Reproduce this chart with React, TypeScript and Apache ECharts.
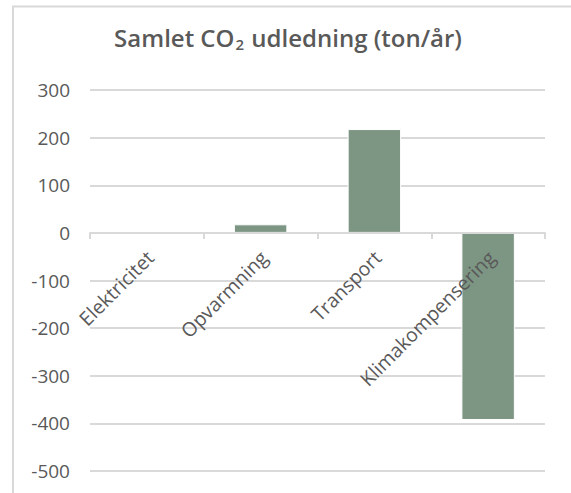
import React, { useEffect, useRef } from "react";
import * as echarts from "echarts";

const categories = ["Elektricitet", "Opvarmning", "Transport", "Klimakompensering"];
const values = [0, 18, 218, -393];
const yMin = -500;
const yMax = 300;
const yInterval = 100;

export default function App() {
  const ref = useRef<HTMLDivElement>(null);
  useEffect(() => {
    if (!ref.current) return;
    const chart = echarts.init(ref.current, null, { renderer: "svg" });
    const font = "'Open Sans', 'Liberation Sans', sans-serif";
    const gridTop = 90;
    const gridBottomPx = 471;
    const zeroY = gridTop + ((yMax - 0) / (yMax - yMin)) * (gridBottomPx - gridTop);
    chart.setOption({
      animation: false,
      backgroundColor: "#ffffff",
      title: {
        text: "Samlet CO{sub|2} udledning (ton/år)",
        left: 283,
        top: 19,
        textAlign: "center",
        textStyle: {
          fontFamily: font,
          fontSize: 24,
          fontWeight: 600,
          color: "#595959",
          rich: {
            sub: {
              fontFamily: font,
              fontSize: 15,
              fontWeight: 600,
              color: "#595959",
              verticalAlign: "bottom",
              padding: [12, 1, 0, 1],
            },
          },
        },
      },
      graphic: [
        {
          type: "rect",
          shape: { x: 13, y: 6.5, width: 700, height: 700 },
          style: { fill: "none", stroke: "#d9d9d9", lineWidth: 2 },
          silent: true,
        },
      ],
      grid: {
        left: 90,
        right: 26,
        top: gridTop,
        bottom: 493 - gridBottomPx,
        containLabel: false,
        outerBoundsMode: "none",
      },
      xAxis: {
        type: "category",
        data: categories,
        position: "bottom",
        offset: -(gridBottomPx - zeroY),
        z: 5,
        axisLine: { show: true, onZero: false, lineStyle: { color: "#d9d9d9", width: 2 } },
        axisTick: { show: true, length: 6, lineStyle: { color: "#d9d9d9", width: 2 } },
        axisLabel: {
          rotate: 45,
          margin: 18,
          interval: 0,
          align: "right",
          verticalAlign: "top",
          lineHeight: 9,
          fontFamily: font,
          fontSize: 19.5,
          color: "#595959",
        },
        splitLine: { show: false },
      },
      yAxis: {
        type: "value",
        min: yMin,
        max: yMax,
        interval: yInterval,
        axisLine: { show: false },
        axisTick: { show: false },
        axisLabel: { margin: 20, fontFamily: font, fontSize: 19, color: "#595959" },
        splitLine: { lineStyle: { color: "#d9d9d9", width: 2 } },
      },
      series: [
        {
          type: "bar",
          data: values,
          barWidth: "47%",
          itemStyle: { color: "#7d9583", borderColor: "#ffffff", borderWidth: 1 },
        },
      ],
    });
    return () => chart.dispose();
  }, []);
  return (
    <div
      ref={ref}
      style={{ position: "absolute", left: 0, top: 0, width: 571, height: 493 }}
    />
  );
}
